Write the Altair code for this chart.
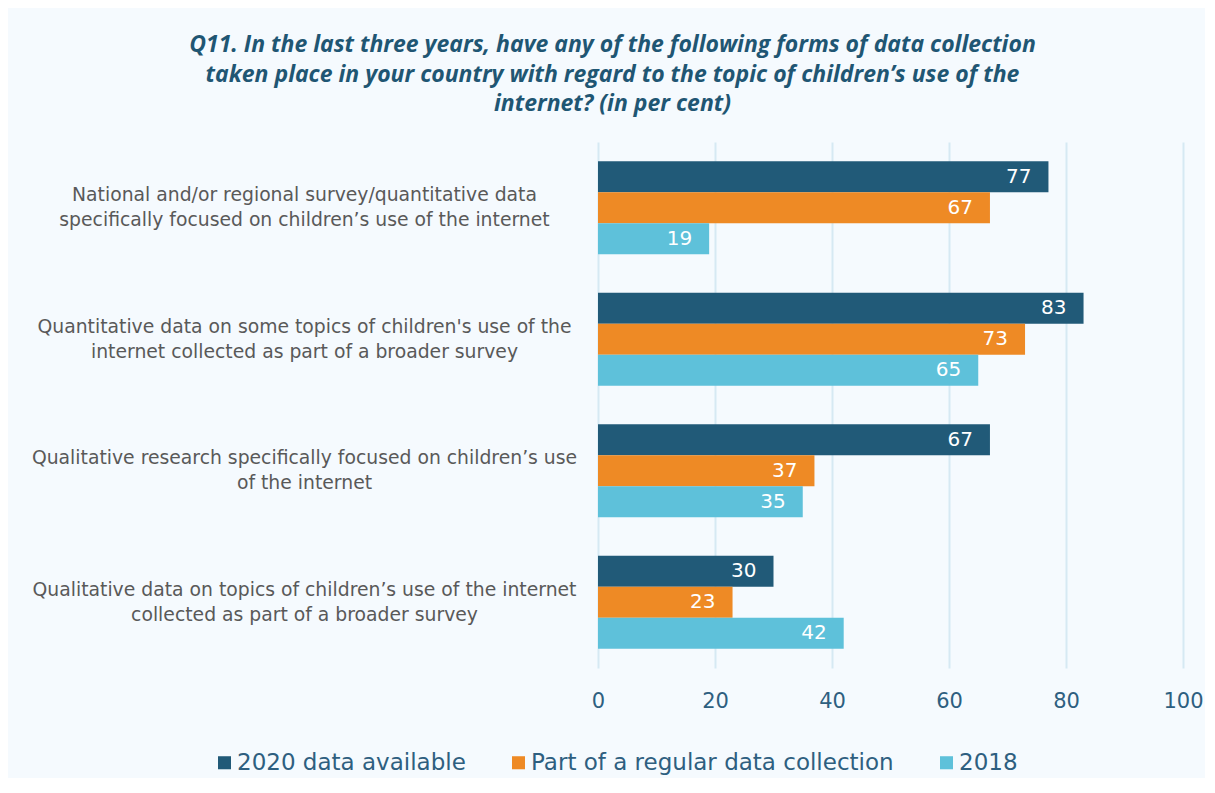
import altair as alt
import pandas as pd

categories = [
    "National and/or regional survey/quantitative data|specifically focused on children’s use of the internet",
    "Quantitative data on some topics of children's use of the|internet collected as part of a broader survey",
    "Qualitative research specifically focused on children’s use|of the internet",
    "Qualitative data on topics of children’s use of the internet|collected as part of a broader survey",
]
series = ["2020 data available", "Part of a regular data collection", "2018"]
values_2020 = [77, 83, 67, 30]
values_regular = [67, 73, 37, 23]
values_2018 = [19, 65, 35, 42]
colors = ["#215A78", "#EE8A25", "#5EC1DA"]
x_ticks = [0, 20, 40, 60, 80, 100]
title_lines = [
    "Q11. In the last three years, have any of the following forms of data collection",
    "taken place in your country with regard to the topic of children’s use of the",
    "internet? (in per cent)",
]

rows = []
for s, vals in zip(series, [values_2020, values_regular, values_2018]):
    for c, v in zip(categories, vals):
        rows.append({"category": c, "series": s, "value": v})
df = pd.DataFrame(rows)

FONT = "DejaVu Sans"
TITLE_FONT = "Open Sans"

base = alt.Chart(df).encode(
    y=alt.Y(
        "category:N",
        sort=categories,
        scale=alt.Scale(paddingInner=0.29, paddingOuter=0.145),
        axis=alt.Axis(
            title=None,
            labelExpr="split(datum.label, '|')",
            labelAlign="center",
            labelBaseline="middle",
            labelPadding=294,
            labelOffset=-12.5,
            ticks=False,
            domain=False,
            labelFont=FONT,
            labelFontSize=18.8,
            labelColor="#595959",
            labelLineHeight=25,
            labelLimit=0,
        ),
    ),
    yOffset=alt.YOffset("series:N", sort=series),
    x=alt.X(
        "value:Q",
        scale=alt.Scale(domain=[0, 100], nice=False),
        axis=alt.Axis(
            values=x_ticks,
            title=None,
            grid=True,
            gridColor="#D6E9F3",
            gridWidth=2,
            domain=False,
            ticks=False,
            labelFlush=False,
            labelFont=FONT,
            labelFontSize=21,
            labelColor="#2E5F80",
            labelPadding=22,
        ),
    ),
)

bars = base.mark_bar(size=31).encode(
    color=alt.Color(
        "series:N",
        sort=series,
        scale=alt.Scale(domain=series, range=colors),
        legend=alt.Legend(
            title=None,
            orient="none",
            direction="horizontal",
            legendX=-385,
            legendY=609,
            symbolType="square",
            symbolSize=170,
            symbolStrokeWidth=0,
            labelFont=FONT,
            labelFontSize=23,
            labelColor="#2E5F80",
            columnPadding=41,
            labelOffset=1,
            labelLimit=0,
        ),
    )
)

labels = base.mark_text(
    align="right", baseline="middle", dx=-17, color="white", fontSize=20, font=FONT
).encode(text="value:Q")

chart = (
    alt.layer(bars, labels)
    .properties(
        width=585,
        height=526,
        autosize=alt.AutoSizeParams(type="none"),
        padding={"left": 590, "top": 134, "right": 22, "bottom": 110},
        background="#F5FAFE",
        title=alt.TitleParams(
            text=title_lines,
            font=TITLE_FONT,
            fontSize=23,
            fontStyle="italic",
            fontWeight="bold",
            color="#1F5673",
            anchor="middle",
            frame="group",
            dx=-278,
            baseline="bottom",
            offset=3,
            lineHeight=29.5,
        ),
    )
    .configure_view(stroke=None)
)

chart.save("out.html", embed_options={"renderer": "svg", "actions": False})
